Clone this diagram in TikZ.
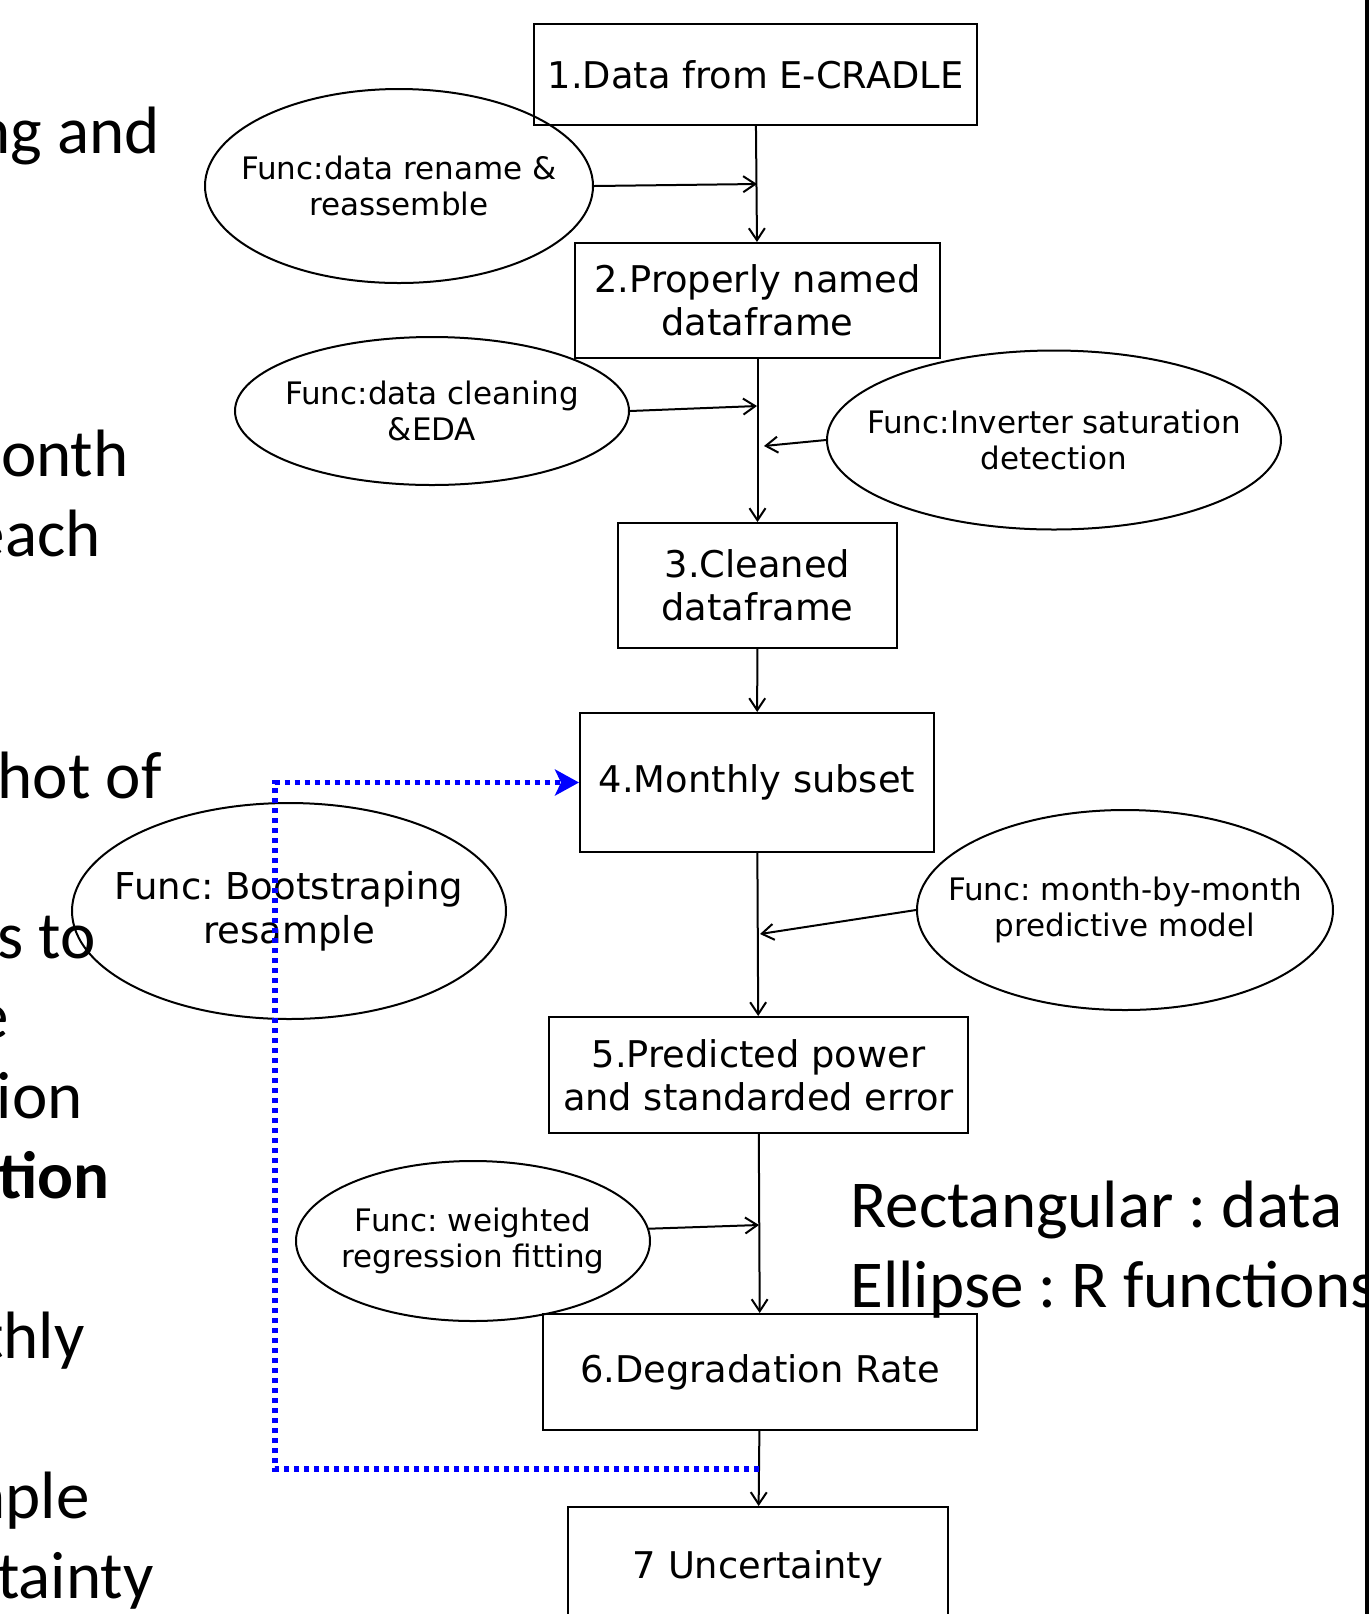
\documentclass[tikz,border=0pt]{standalone}
\usepackage{fontspec}
\setmainfont{DejaVu Sans}
\newfontfamily\slidefont{Carlito}
\usetikzlibrary{arrows.meta,shapes.geometric}
\frenchspacing

\begin{document}
\begin{tikzpicture}[
  x=0.5pt,y=-0.5pt,
  databox/.style={draw,line width=1pt,inner sep=0pt,align=center,font=\fontsize{18.4}{21.5}\selectfont},
  funcell/.style={draw,ellipse,line width=1pt,inner sep=0pt},
  functext/.style={inner sep=0pt,align=center,font=\fontsize{15.5}{18}\selectfont},
  slide/.style={inner sep=0pt,anchor=base east,font=\slidefont\fontsize{33.5}{40}\selectfont},
  legend/.style={inner sep=0pt,anchor=base west,font=\slidefont\fontsize{33.5}{40}\selectfont},
  arr/.style={-{Straight Barb[length=6pt,width=8pt]},line width=1pt},
  bootarr/.style={blue,line width=2.6pt,dash pattern=on 2.5pt off 2.5pt,-{Stealth[length=12pt,width=13pt,inset=3pt]}}
]
  \useasboundingbox (0,0) rectangle (1369,1614);
  \fill[white] (0,0) rectangle (1369,1614);

  % cut-off slide text on the left
  \node[slide] (t1) at (160,153) {ng and};
  \node[slide] (t2) at (129,476) {onth};
  \node[slide] (t3) at (101,556) {each};
  \node[slide] (t4) at (162,798) {hot of};
  \node[slide] (t5) at (96,958) {s to};
  \node[slide] (t6) at (9,1038) {e};
  \node[slide] (t7) at (83,1118) {ion};
  \node[slide] (t8) at (110,1198) {\bfseries tion};
  \node[slide] (t9) at (85,1358) {thly};
  \node[slide] (t10) at (90,1518) {nple};
  \node[slide] (t11) at (154,1598) {tainty};

  % data
  \node[databox,minimum width=221.5pt,minimum height=50.5pt] (b1) at (755.5,74.5) {1.Data from E-CRADLE};
  \node[databox,minimum width=182.5pt,minimum height=57.5pt] (b2) at (757.5,300.5) {2.Properly named\\dataframe};
  \node[databox,minimum width=139.5pt,minimum height=62.5pt] (b3) at (757.5,585.5) {3.Cleaned\\dataframe};
  \node[databox,minimum width=177pt,minimum height=69.5pt] (b4) at (757,782.5) {4.Monthly subset};
  \node[databox,minimum width=209.5pt,minimum height=58pt] (b5) at (758.5,1075) {5.Predicted power\\and standarded error};
  \node[databox,minimum width=217pt,minimum height=58pt] (b6) at (760,1372) {6.Degradation Rate};
  \node[databox,minimum width=190pt,minimum height=61pt] (b7) at (758,1568) {7 Uncertainty};

  % functions
  \node[funcell,minimum width=194pt,minimum height=97pt,
    label={[functext]center:{Func:data rename \&\\reassemble}}] (e1) at (399,186) {};
  \node[funcell,minimum width=197pt,minimum height=74pt,
    label={[functext]center:{Func:data cleaning\\\&EDA}}] (e2) at (432,411) {};
  \node[funcell,minimum width=227pt,minimum height=89.5pt,
    label={[functext]center:{Func:Inverter saturation\\detection}}] (e3) at (1054,440) {};
  \node[funcell,minimum width=217pt,minimum height=108pt,
    label={[functext,font=\fontsize{18.5}{22}\selectfont]center:{Func: Bootstraping\\resample}}] (e4) at (289,911) {};
  \node[funcell,minimum width=208pt,minimum height=100pt,
    label={[functext]center:{Func: month-by-month\\predictive model}}] (e5) at (1125,910) {};
  \node[funcell,minimum width=177pt,minimum height=80pt,
    label={[functext]center:{Func: weighted\\regression fitting}}] (e6) at (473,1241) {};

  \node[legend] (leg1) at (850,1227) {Rectangular : data};
  \node[legend] (leg2) at (850,1307) {Ellipse : R functions};

  \coordinate (j1) at (757,184);
  \coordinate (j2) at (757,406);
  \coordinate (j3) at (764,446);
  \coordinate (j5) at (760,934);
  \coordinate (j6) at (759,1225);
  \coordinate (j7) at (759,1469);
  \coordinate (c7) at (275,1469);

  \draw[arr] (b1) -- (b2);
  \draw[arr] (b2) -- (b3);
  \draw[arr] (b3) -- (b4);
  \draw[arr] (b4) -- (b5);
  \draw[arr] (b5) -- (b6);
  \draw[arr] (b6) -- (b7);

  \draw[arr] (e1.east) -- (j1);
  \draw[arr] (e2.east) -- (j2);
  \draw[arr] (e3.west) -- (j3);
  \draw[arr] (e5.west) -- (j5);
  \draw[arr] (e6.4) -- (j6);

  \draw[bootarr] (j7) -- (c7) |- (b4.west);

  \fill (1365,0) rectangle (1369,1614);
\end{tikzpicture}
\end{document}
